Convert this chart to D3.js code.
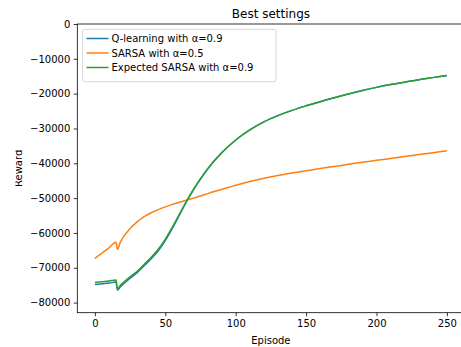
<!DOCTYPE html>
<html lang="en">
<head>
<meta charset="UTF-8">
<title>Best settings</title>
<style>
  body { margin: 0; background: #fff; }
  svg { display: block; font-family: "DejaVu Sans", sans-serif; }
  .tick text { font-size: 10px; fill: #000; }
</style>
</head>
<body>
<div id="chart"></div>
<script src="https://d3js.org/d3.v7.min.js"></script>
<script>
// data
var episodes = [0, 5, 10, 15, 16, 18, 20, 25, 30, 35, 40, 45, 50, 55, 60, 65, 70, 75, 80, 90,
                100, 110, 120, 130, 140, 150, 160, 170, 180, 190, 200, 210, 220, 230, 240, 250];

var qlearning = [-74800, -74600, -74400, -74100, -76400, -75500, -74700, -73000, -71400, -69400, -67400, -65100, -62200, -58700, -54900, -51100,
                 -47600, -44500, -41700, -37000, -33300, -30400, -28100, -26300, -24800, -23500, -22300, -21200, -20100, -19100,
                 -18200, -17400, -16700, -16000, -15400, -14800];

var sarsa = [-67300, -65800, -64300, -62700, -64700, -62700, -61300, -58700, -56800, -55300, -54200, -53300, -52500, -51800, -51200, -50600,
             -50000, -49400, -48700, -47500, -46300, -45250, -44300, -43500, -42800, -42150, -41500, -40900, -40300, -39700,
             -39150, -38600, -38050, -37500, -36950, -36400];

var expectedSarsa = [-74200, -74000, -73800, -73500, -76100, -75100, -74300, -72600, -71000, -69000, -67000, -64700, -61800, -58300, -54600, -50900,
                     -47500, -44400, -41600, -37000, -33300, -30400, -28100, -26300, -24800, -23500, -22300, -21200, -20100, -19100,
                     -18200, -17400, -16700, -16000, -15400, -14800];

var seriesNames = ["Q-learning with \u03b1=0.9", "SARSA with \u03b1=0.5", "Expected SARSA with \u03b1=0.9"];
var seriesValues = [qlearning, sarsa, expectedSarsa];
var colors = ["#1f77b4", "#ff7f0e", "#2ca02c"];

var xTicks = [0, 50, 100, 150, 200, 250];
var yTicks = [0, -10000, -20000, -30000, -40000, -50000, -60000, -70000, -80000];

// layout (plot box edges in px)
var W = 461, H = 347;
var pLeft = 77.3, pTop = 24, pRight = 464.5, pBottom = 312.7;

var svg = d3.select("#chart").append("svg")
    .attr("width", W)
    .attr("height", H);

var x = d3.scaleLinear().domain([-12.5, 262.5]).range([pLeft, pRight]);
var y = d3.scaleLinear().domain([-82900, 0]).range([pBottom, pTop]);

// lines
var line = d3.line()
    .x(function(d, i) { return x(episodes[i]); })
    .y(function(d) { return y(d); })
    .curve(d3.curveMonotoneX);

svg.append("g")
  .selectAll("path")
  .data(seriesValues)
  .enter()
  .append("path")
    .attr("fill", "none")
    .attr("stroke", function(d, i) { return colors[i]; })
    .attr("stroke-width", 1.5)
    .attr("stroke-linejoin", "round")
    .attr("d", line);

// axes
var xAxis = svg.append("g")
    .attr("transform", "translate(0," + pBottom + ")")
    .call(d3.axisBottom(x).tickValues(xTicks).tickSize(3.5).tickPadding(3.5).tickSizeOuter(0));

var yAxis = svg.append("g")
    .attr("transform", "translate(" + pLeft + ",0)")
    .call(d3.axisLeft(y).tickValues(yTicks).tickSize(3.5).tickPadding(3.5).tickSizeOuter(0).tickFormat(d3.format("d")));

[xAxis, yAxis].forEach(function(a) {
  a.select(".domain").remove();
  a.selectAll(".tick line").attr("stroke", "#000").attr("stroke-width", 0.8);
  a.attr("font-family", null).attr("font-size", null);
});

// spines
svg.append("rect")
    .attr("x", pLeft).attr("y", pTop)
    .attr("width", pRight - pLeft).attr("height", pBottom - pTop)
    .attr("fill", "none")
    .attr("stroke", "#000")
    .attr("stroke-width", 0.8);

// title and labels
svg.append("text")
    .attr("x", (pLeft + pRight) / 2)
    .attr("y", 18)
    .attr("text-anchor", "middle")
    .attr("font-size", 12)
    .text("Best settings");

svg.append("text")
    .attr("x", (pLeft + pRight) / 2)
    .attr("y", 344)
    .attr("text-anchor", "middle")
    .attr("font-size", 10)
    .text("Episode");

// y label, its left edge is cut in the reference
svg.append("clipPath").attr("id", "ylab-clip")
  .append("rect").attr("x", 15.5).attr("y", 0).attr("width", 40).attr("height", H);

svg.append("g")
    .attr("clip-path", "url(#ylab-clip)")
  .append("text")
    .attr("transform", "translate(22," + ((pTop + pBottom) / 2) + ") rotate(-90)")
    .attr("text-anchor", "middle")
    .attr("font-size", 10)
    .text("Reward");

// legend
var legend = svg.append("g");
legend.append("rect")
    .attr("x", 82.7).attr("y", 29.3)
    .attr("width", 193.3).attr("height", 52.4)
    .attr("rx", 2)
    .attr("fill", "#fff").attr("fill-opacity", 0.8)
    .attr("stroke", "#ccc").attr("stroke-width", 0.8);

var rows = legend.selectAll("g.row")
  .data(seriesNames)
  .enter()
  .append("g")
    .attr("class", "row")
    .attr("transform", function(d, i) { return "translate(0," + (38.5 + i * 14.5) + ")"; });

rows.append("line")
    .attr("x1", 86.5).attr("x2", 108.5)
    .attr("stroke", function(d, i) { return colors[i]; })
    .attr("stroke-width", 1.5);

rows.append("text")
    .attr("x", 111.5)
    .attr("y", 3.6)
    .attr("font-size", 10)
    .text(function(d) { return d; });
</script>
</body>
</html>
